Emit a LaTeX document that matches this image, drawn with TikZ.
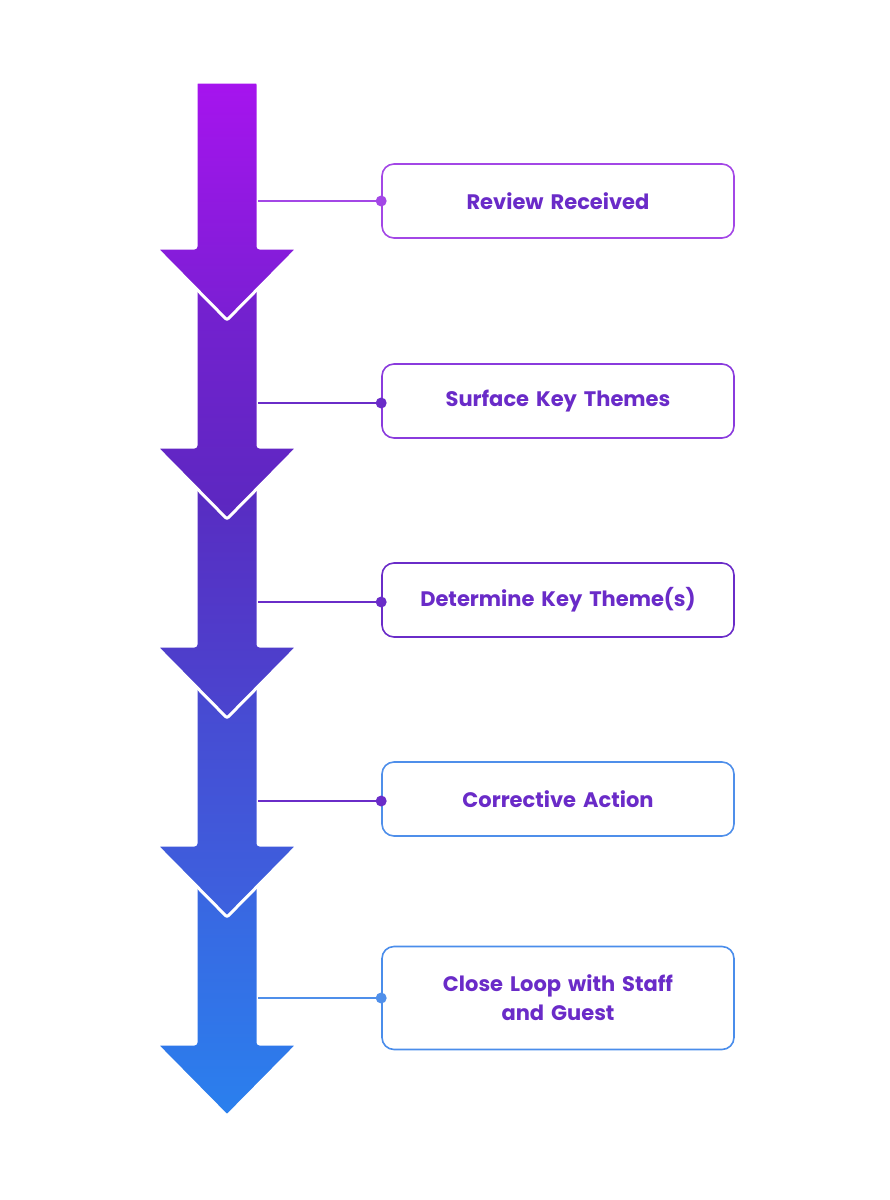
\documentclass[tikz,border=0pt]{standalone}
\usepackage{fontspec}
\setmainfont{Poppins}
\definecolor{txt}{HTML}{6A2BC8}
\definecolor{sA}{HTML}{A614EE}
\definecolor{sB}{HTML}{8E1AE0}
\definecolor{sC}{HTML}{7A1FD3}
\definecolor{sD}{HTML}{5B28C0}
\definecolor{sE}{HTML}{4A45CF}
\definecolor{sF}{HTML}{3C62DF}
\definecolor{sG}{HTML}{2A80EE}
\definecolor{bA}{HTML}{A347E6}
\definecolor{bB}{HTML}{8A3BDD}
\definecolor{bC}{HTML}{6A2CC8}
\definecolor{bD}{HTML}{4F8FEA}
\definecolor{bE}{HTML}{4A8DEB}
\begin{document}
\begin{tikzpicture}[x=1pt,y=-1pt,
    step/.style={draw=#1, line width=1.6pt, rounded corners=12pt, fill=white,
        minimum width=352pt, minimum height=74pt, text width=320pt, align=center,
        text=txt, font=\bfseries\fontsize{21}{29}\selectfont},
    link/.style={draw=#1, line width=1.2pt},
    dot/.style={fill=#1, circle, inner sep=0pt, minimum size=11pt}]
    \useasboundingbox (0,0) rectangle (890,1200);
    % arrow segments, bottom first so upper heads overlap
    \foreach \t/\b/\ct/\cb in {855/1044/sF/sG, 656/845/sE/sF, 457/646/sD/sE, 258/447/sC/sD, 82/248/sA/sC}{
        \path[top color=\ct, bottom color=\cb, draw=white, line width=3pt, rounded corners=2pt]
            (196,\t) -- (258,\t) -- (258,\b) -- (298,\b) -- (227,\b+72)
            -- (156,\b) -- (196,\b) -- cycle;
    }
    % steps
    \node[step=bA] (review)  at (558,201) {Review Received};
    \node[step=bB] (surface) at (558,401) {Surface Key Themes};
    \node[step=bC] (determ)  at (558,600) {Determine Key Theme(s)};
    \node[step=bD] (correct) at (558,799) {Corrective Action};
    \node[step=bE, minimum height=103pt] (close) at (558,998) {Close Loop with Staff\\and Guest};
    % links
    \foreach \n/\y/\c in {review/201/bA, surface/403/bC, determ/602/bC, correct/801/bC, close/998/bD}{
        \coordinate (s-\n) at (258,\y);
        \draw[link=\c] (s-\n) -- (\n.west |- s-\n);
        \node[dot=\c] at (\n.west |- s-\n) {};
    }
\end{tikzpicture}
\end{document}
